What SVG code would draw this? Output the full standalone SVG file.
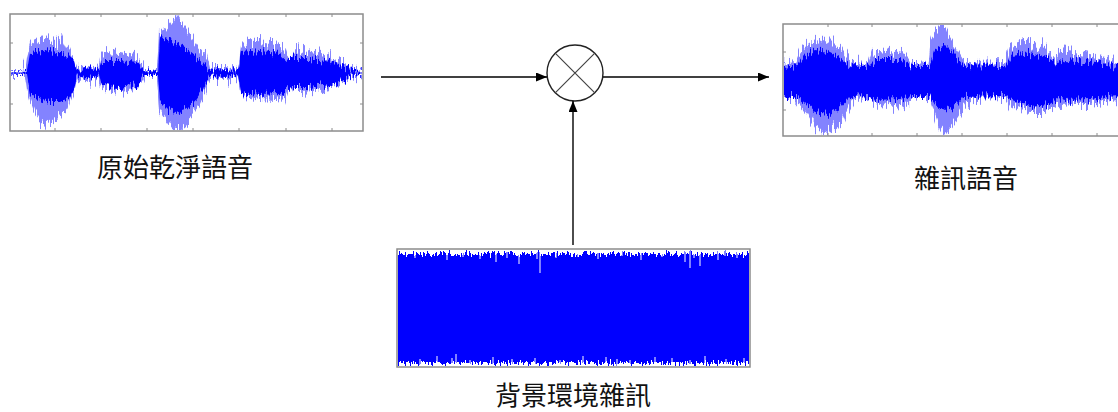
<svg xmlns="http://www.w3.org/2000/svg" width="1118" height="412" viewBox="0 0 1118 412">
<style>
.frame{fill:none;stroke:#8c8c8c;stroke-width:1.5}
.tick{stroke:#8c8c8c;stroke-width:1}
.lite{fill:#8383ff}
.dark{fill:#0000ff}
.lbl{font-family:"Noto Sans CJK TC","Noto Sans CJK SC",sans-serif;font-size:26px;fill:#111;text-anchor:middle}
.conn{stroke:#000;stroke-width:1.4;fill:none}
</style>
<defs>
<marker id="ah" viewBox="0 0 11 9" refX="11" refY="4.5" markerWidth="11" markerHeight="9" markerUnits="userSpaceOnUse" orient="auto"><path d="M0,0 L11,4.5 L0,9 z" fill="#000"/></marker>
<filter id="jagL" x="-2%" y="-30%" width="104%" height="160%" color-interpolation-filters="sRGB">
<feTurbulence type="fractalNoise" baseFrequency="0.6 0.03" numOctaves="2" seed="4" result="n"/>
<feColorMatrix in="n" type="matrix" values="0 0 0 0 0.5  1 0 0 0 0  0 0 0 0 0  0 0 0 0 1" result="m"/>
<feDisplacementMap in="SourceGraphic" in2="m" scale="30" xChannelSelector="R" yChannelSelector="G"/>
</filter>
<filter id="jagD" x="-2%" y="-30%" width="104%" height="160%" color-interpolation-filters="sRGB">
<feTurbulence type="fractalNoise" baseFrequency="0.6 0.04" numOctaves="2" seed="9" result="n"/>
<feColorMatrix in="n" type="matrix" values="0 0 0 0 0.5  1 0 0 0 0  0 0 0 0 0  0 0 0 0 1" result="m"/>
<feDisplacementMap in="SourceGraphic" in2="m" scale="18" xChannelSelector="R" yChannelSelector="G"/>
</filter>
<filter id="jagN" x="-2%" y="-10%" width="104%" height="120%" color-interpolation-filters="sRGB">
<feTurbulence type="fractalNoise" baseFrequency="0.6 0.05" numOctaves="2" seed="2" result="n"/>
<feColorMatrix in="n" type="matrix" values="0 0 0 0 0.5  1 0 0 0 0  0 0 0 0 0  0 0 0 0 1" result="m"/>
<feDisplacementMap in="SourceGraphic" in2="m" scale="14" xChannelSelector="R" yChannelSelector="G"/>
</filter>
<clipPath id="c1"><rect x="11" y="15" width="351" height="115"/></clipPath>
<clipPath id="c2"><rect x="784" y="25" width="340" height="110"/></clipPath>
<clipPath id="c3"><rect x="398" y="250" width="351" height="116"/></clipPath>
</defs>
<rect width="1118" height="412" fill="#fff"/>

<g id="clean">
<g clip-path="url(#c1)">
<path class="lite" filter="url(#jagL)" d="M10,72 L22,72 L23,64 L25,71 L27,56 L30,44 L35,40 L45,38 L55,42 L62,36 L66,45 L70,50 L75,62 L78,70 L85,68 L92,66 L98,70 L101,55 L104,52 L120,53 L135,56 L143,66 L145,71 L157,71 L159,33 L165,30 L172,22 L176,15 L180,22 L186,28 L193,38 L200,48 L207,56 L210,68 L225,68 L238,70 L241,46 L245,42 L260,40 L275,43 L285,47 L290,62 L293,50 L300,48 L315,52 L330,57 L345,64 L352,70 L363,72 L363,74 L352,76 L345,82 L330,88 L315,91 L300,92 L293,92 L290,84 L285,98 L275,100 L260,99 L245,96 L241,92 L238,76 L225,78 L210,77 L207,88 L200,105 L193,115 L186,125 L180,130 L176,130 L172,128 L165,118 L159,108 L157,75 L145,75 L143,80 L135,88 L120,90 L104,88 L101,86 L98,76 L92,80 L85,78 L78,76 L75,88 L70,100 L66,112 L55,118 L48,123 L40,122 L35,114 L30,100 L27,90 L25,75 L22,74 L10,74 Z"/>
<path class="dark" filter="url(#jagD)" d="M10,72.5 L27,72 L30,54 L35,52 L50,50 L60,53 L68,56 L74,62 L77,71 L85,69 L92,67 L99,71 L102,61 L120,61 L138,63 L143,70 L158,71 L160,38 L168,40 L176,44 L185,48 L195,56 L203,62 L209,70 L225,69 L238,71 L241,53 L260,51 L280,53 L288,60 L293,58 L310,58 L330,62 L345,67 L352,71 L363,72.5 L363,73.5 L352,75 L345,80 L330,85 L310,88 L293,88 L288,89 L280,94 L260,95 L241,93 L238,75 L225,77 L209,76 L203,90 L195,102 L185,109 L176,112 L168,110 L160,102 L158,75 L143,75 L138,85 L120,88 L102,87 L99,75 L92,79 L85,77 L77,75 L74,90 L68,98 L60,102 L50,102 L35,98 L30,92 L27,74 L10,73.5 Z"/>
<line x1="10" y1="73" x2="363" y2="73" stroke="#0000ff" stroke-width="1"/>
</g>
<rect class="frame" x="10" y="14" width="353" height="117"/>
<path class="tick" d="M55,14v3M101,14v3M147,14v3M193,14v3M239,14v3M286,14v3M332,14v3M55,131v-3M101,131v-3M147,131v-3M193,131v-3M239,131v-3M286,131v-3M332,131v-3M10,43h3M10,104h3M363,43h-3M363,104h-3"/>
<text class="lbl" x="175" y="177">原始乾淨語音</text>
</g>

<g id="noisy">
<g clip-path="url(#c2)">
<path class="lite" filter="url(#jagL)" d="M783,66 L795,64 L800,52 L805,45 L812,40 L820,42 L828,38 L835,45 L842,50 L848,60 L855,65 L868,64 L872,52 L880,50 L895,53 L905,56 L912,63 L928,64 L930,45 L935,30 L940,25 L945,25 L950,38 L958,50 L965,62 L975,64 L1005,63 L1010,45 L1020,40 L1030,42 L1045,46 L1055,58 L1060,50 L1075,52 L1090,55 L1105,60 L1118,64 L1125,64 L1125,100 L1118,100 L1105,102 L1090,104 L1075,104 L1060,105 L1055,108 L1045,112 L1030,112 L1020,110 L1010,105 L1005,97 L975,98 L965,105 L958,118 L950,128 L945,136 L940,130 L935,115 L930,100 L928,97 L912,98 L905,104 L895,106 L880,104 L872,100 L868,97 L855,98 L848,110 L842,125 L835,130 L825,133 L815,128 L808,115 L800,105 L795,98 L783,98 Z"/>
<path class="dark" filter="url(#jagD)" d="M783,68 L798,66 L805,55 L815,50 L828,52 L840,58 L850,66 L868,67 L875,60 L900,60 L912,66 L930,66 L935,50 L945,45 L955,55 L963,65 L1005,66 L1012,55 L1030,52 L1050,58 L1058,64 L1065,60 L1090,62 L1118,67 L1125,67 L1125,96 L1118,96 L1090,99 L1065,100 L1058,98 L1050,104 L1030,106 L1012,100 L1005,96 L963,97 L955,105 L945,110 L935,105 L930,96 L912,96 L900,99 L875,100 L868,96 L850,97 L840,108 L828,114 L815,112 L805,103 L798,97 L783,97 Z"/>
</g>
<rect class="frame" x="783" y="24" width="360" height="112"/>
<path class="tick" d="M828,24v3M872,24v3M917,24v3M962,24v3M1007,24v3M1052,24v3M1097,24v3M828,136v-3M872,136v-3M917,136v-3M962,136v-3M1007,136v-3M1052,136v-3M1097,136v-3M783,52h3M783,110h3"/>
<text class="lbl" x="966" y="188">雜訊語音</text>
</g>

<g id="noise">
<g clip-path="url(#c3)">
<rect class="dark" filter="url(#jagN)" x="398" y="254" width="351" height="109"/>
<path stroke="#fff" stroke-width="1" fill="none" d="M415,250v8M431,250v6M447,250v10M463,250v7M480,250v9M496,250v12M507,250v8M519,250v14M537,250v9M540,250v23M556,250v8M578,250v7M598,250v9M622,250v6M641,250v10M662,250v7M685,250v12M694,250v8M690,250v18M700,250v16M718,250v10M725,250v6M737,250v8M420,366v-7M437,366v-10M452,366v-8M456,366v-12M470,366v-6M493,366v-9M512,366v-7M535,366v-8M560,366v-6M583,366v-10M606,366v-9M617,366v-7M630,366v-6M655,366v-9M672,366v-8M690,366v-6M705,366v-10M726,366v-7M744,366v-8"/>
</g>
<rect class="frame" x="397" y="249" width="353" height="118"/>
<text class="lbl" x="573" y="405">背景環境雜訊</text>
</g>

<g id="mixer">
<circle cx="575" cy="73" r="28" fill="#fff" stroke="#222" stroke-width="1.4"/>
<path d="M555.2,53.2 L594.8,92.8 M594.8,53.2 L555.2,92.8" stroke="#444" stroke-width="1.2"/>
</g>

<g id="connectors">
<line class="conn" x1="381" y1="77" x2="547" y2="77" marker-end="url(#ah)"/>
<line class="conn" x1="603" y1="77" x2="769" y2="77" marker-end="url(#ah)"/>
<line class="conn" x1="573" y1="245" x2="573" y2="101" marker-end="url(#ah)"/>
</g>
</svg>
